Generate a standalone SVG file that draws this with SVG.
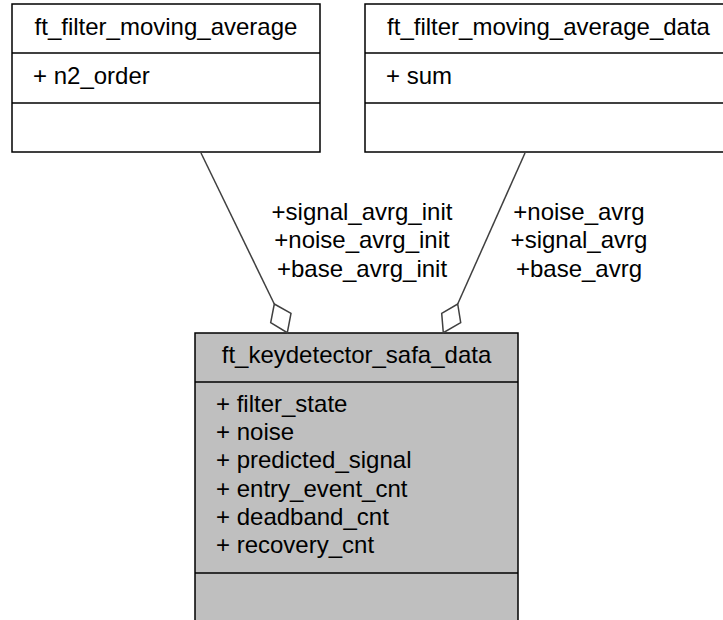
<svg xmlns="http://www.w3.org/2000/svg" width="723" height="620" viewBox="0 0 723 620">
<style>
text{font-family:"Liberation Sans",Arial,sans-serif;font-size:24px;fill:#000}
.box{fill:#fff;stroke:#000;stroke-width:1.5}
.main{fill:#bfbfbf;stroke:#000;stroke-width:1.5}
.sep{stroke:#000;stroke-width:1.5}
.edge{fill:none;stroke:#404040;stroke-width:1.5}
.dia{fill:#fff;stroke:#404040;stroke-width:1.5}
.c{text-anchor:middle}
</style>
<rect width="723" height="620" fill="#fff"/>
<g id="ft_filter_moving_average">
<rect class="box" x="12" y="4" width="308" height="148"/>
<line class="sep" x1="12" y1="53" x2="320" y2="53"/>
<line class="sep" x1="12" y1="103" x2="320" y2="103"/>
<text class="c" x="166" y="35">ft_filter_moving_average</text>
<text x="33" y="84">+ n2_order</text>
</g>
<g id="ft_filter_moving_average_data">
<rect class="box" x="365" y="4" width="367" height="148"/>
<line class="sep" x1="365" y1="53" x2="732" y2="53"/>
<line class="sep" x1="365" y1="103" x2="732" y2="103"/>
<text class="c" x="548.5" y="35">ft_filter_moving_average_data</text>
<text x="386" y="84">+ sum</text>
</g>
<g id="ft_keydetector_safa_data">
<rect class="main" x="195" y="333" width="323" height="300"/>
<line class="sep" x1="195" y1="382" x2="518" y2="382"/>
<line class="sep" x1="195" y1="573" x2="518" y2="573"/>
<text class="c" x="356.5" y="363">ft_keydetector_safa_data</text>
<text x="216" y="412">+ filter_state</text>
<text x="216" y="440">+ noise</text>
<text x="216" y="468">+ predicted_signal</text>
<text x="216" y="497">+ entry_event_cnt</text>
<text x="216" y="525">+ deadband_cnt</text>
<text x="216" y="553">+ recovery_cnt</text>
</g>
<g id="connectors">
<path class="edge" d="M201,153 L274.3,304"/>
<polygon class="dia" points="274.3,304 291,313.3 287.3,332.7 270.7,322.7"/>
<text class="c" x="362" y="220">+signal_avrg_init</text>
<text class="c" x="362" y="248">+noise_avrg_init</text>
<text class="c" x="362" y="277">+base_avrg_init</text>
<path class="edge" d="M525,153 L457.7,304"/>
<polygon class="dia" points="457.7,304 460.7,322.7 443.3,332.7 441.7,313.3"/>
<text class="c" x="579" y="220">+noise_avrg</text>
<text class="c" x="579" y="248">+signal_avrg</text>
<text class="c" x="579" y="277">+base_avrg</text>
</g>
</svg>
